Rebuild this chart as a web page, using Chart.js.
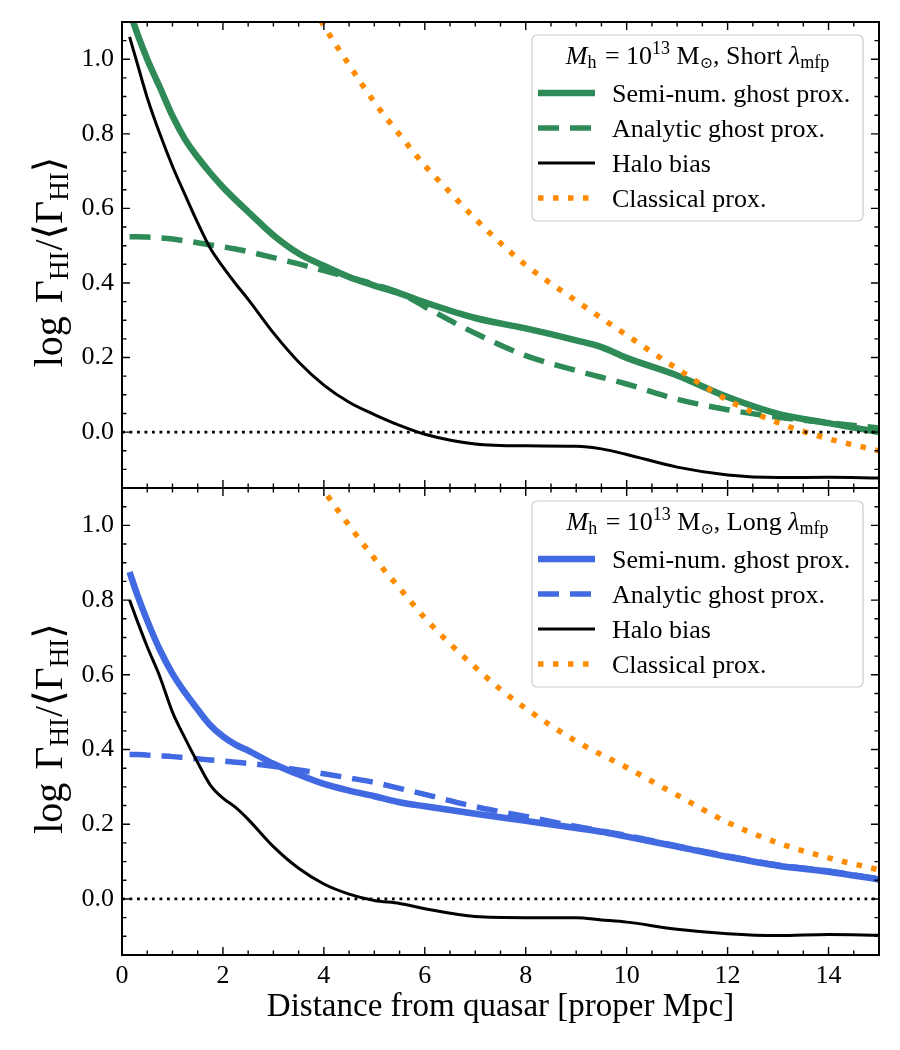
<!DOCTYPE html>
<html>
<head>
<meta charset="utf-8">
<title>Ghost proximity profiles</title>
<script src="https://cdn.jsdelivr.net/npm/chart.js@4.4.1/dist/chart.umd.min.js"></script>
<style>
html,body{margin:0;padding:0;background:#ffffff;}
#wrap{position:relative;width:900px;height:1050px;overflow:hidden;background:#ffffff;}
#wrap canvas{position:absolute;left:0;}
</style>
</head>
<body>
<div id="wrap">
<canvas id="topCanvas" width="900" height="516" style="top:0px;width:900px;height:516px"></canvas>
<canvas id="bottomCanvas" width="900" height="590" style="top:460px;width:900px;height:590px"></canvas>
</div>
<script>
// ---------------- data ----------------
const xGrid = [0.15, 0.3, 0.5, 0.75, 1, 1.25, 1.5, 1.75, 2, 2.25, 2.5, 3, 3.5, 4, 4.5, 5, 5.5, 6, 7, 8, 9, 9.5, 10, 11, 12, 13, 14, 15];

// Top panel: Short mean free path
const shortSemiNum   = [1.13, 1.07, 1.00, 0.925, 0.848, 0.785, 0.737, 0.695, 0.657, 0.623, 0.591, 0.528, 0.479, 0.446, 0.416, 0.393, 0.372, 0.348, 0.306, 0.278, 0.246, 0.228, 0.199, 0.152, 0.094, 0.049, 0.024, 0.0];
const shortAnalytic  = [0.524, 0.524, 0.523, 0.521, 0.518, 0.513, 0.508, 0.502, 0.497, 0.491, 0.484, 0.468, 0.451, 0.433, 0.415, 0.396, 0.374, 0.336, 0.265, 0.205, 0.165, 0.147, 0.129, 0.088, 0.060, 0.040, 0.025, 0.011];
const shortHaloBias  = [1.06, 0.99, 0.897, 0.80, 0.713, 0.636, 0.561, 0.493, 0.443, 0.398, 0.356, 0.266, 0.188, 0.126, 0.08, 0.047, 0.018, -0.006, -0.032, -0.037, -0.038, -0.045, -0.06, -0.094, -0.115, -0.122, -0.121, -0.123];

// Bottom panel: Long mean free path
const longSemiNum    = [0.875, 0.815, 0.745, 0.667, 0.603, 0.552, 0.507, 0.465, 0.435, 0.413, 0.397, 0.362, 0.333, 0.308, 0.29, 0.275, 0.259, 0.248, 0.228, 0.209, 0.19, 0.18, 0.167, 0.14, 0.113, 0.089, 0.073, 0.052];
const longAnalytic   = [0.387, 0.387, 0.385, 0.383, 0.381, 0.378, 0.375, 0.372, 0.369, 0.366, 0.363, 0.355, 0.345, 0.335, 0.324, 0.312, 0.296, 0.28, 0.247, 0.221, 0.194, 0.182, 0.17, 0.142, 0.115, 0.091, 0.075, 0.054];
const longHaloBias   = [0.80, 0.745, 0.675, 0.595, 0.50, 0.43, 0.365, 0.305, 0.27, 0.245, 0.213, 0.14, 0.082, 0.04, 0.013, -0.004, -0.012, -0.026, -0.047, -0.05, -0.05, -0.056, -0.062, -0.081, -0.093, -0.098, -0.095, -0.097];

// Classical proximity zone (both panels)
const classicalX     = [3.5, 4, 4.5, 5, 5.5, 6, 6.5, 7, 7.5, 8, 9, 10, 11, 12, 13, 14, 15];
const shortClassical = [1.21, 1.09, 0.985, 0.885, 0.798, 0.715, 0.643, 0.572, 0.507, 0.448, 0.352, 0.26, 0.17, 0.086, 0.025, -0.018, -0.05];
const longClassical  = [1.22, 1.095, 1.0, 0.912, 0.832, 0.752, 0.683, 0.62, 0.561, 0.51, 0.422, 0.352, 0.278, 0.205, 0.15, 0.11, 0.078];

// Reference line
const zeroX = [0, 15];
const zeroY = [0, 0];

// Labels and ticks
const seriesLabels = ['Semi-num. ghost prox.', 'Analytic ghost prox.', 'Halo bias', 'Classical prox.'];
const panelNames   = ['Short', 'Long'];
const xTickValues  = [0, 2, 4, 6, 8, 10, 12, 14];
const yTickValues  = [0.0, 0.2, 0.4, 0.6, 0.8, 1.0];
const xAxisTitle   = 'Distance from quasar [proper Mpc]';

// ---------------- style ----------------
const SERIF = "'Liberation Serif','Times New Roman','DejaVu Serif',serif";
const GREEN = '#2e8b57', BLUE = '#4169e1', ORANGE = '#ff8c00';
const X_MIN = 0, X_MAX = 15, Y_MIN = -0.15, Y_MAX = 1.1;
const X_MAJOR = 2, X_MINOR = 0.5, Y_MAJOR = 0.2, Y_MINOR = 0.05;
const TICK_MAJOR = 8, TICK_MINOR = 4.5;

function pts(xs, ys) { return xs.map((x, i) => ({x: x, y: ys[i]})); }

function fontStr(s) { return (s.i ? 'italic ' : '') + s.s + 'px ' + SERIF; }
function richWidth(ctx, segs) {
  let w = 0;
  for (const s of segs) { ctx.font = fontStr(s); w += ctx.measureText(s.t).width + (s.dx || 0); }
  return w;
}
function drawRich(ctx, segs, x, y, align) {
  let cx = align === 'center' ? x - richWidth(ctx, segs) / 2 : x;
  for (const s of segs) {
    ctx.font = fontStr(s);
    cx += (s.dx || 0);
    ctx.fillText(s.t, cx, y + (s.dy || 0));
    cx += ctx.measureText(s.t).width;
  }
}
function legendTitle(name) {
  return [
    {t: 'M', s: 26, i: true},
    {t: 'h', s: 18, dy: 4},
    {t: ' = 10', s: 26, dx: 2},
    {t: '13', s: 18, dy: -10},
    {t: ' M', s: 26},
    {t: '\u2299', s: 16, dy: 4},
    {t: ', ' + name + ' ', s: 26},
    {t: '\u03bb', s: 26, i: true},
    {t: 'mfp', s: 18, dy: 4}
  ];
}
const yLabelSegs = [
  {t: 'log', s: 40},
  {t: ' \u0393', s: 40, dx: 3},
  {t: 'HI', s: 27, dy: 6},
  {t: '/', s: 40, dx: 1},
  {t: '\u27e8', s: 40},
  {t: '\u0393', s: 40},
  {t: 'HI', s: 27, dy: 6},
  {t: '\u27e9', s: 40}
];

const panelPlugin = {
  id: 'panelDecor',
  afterDraw(chart, args, o) {
    const ctx = chart.ctx, a = chart.chartArea, xs = chart.scales.x, ys = chart.scales.y;
    ctx.save();
    // inward ticks on all four sides
    ctx.strokeStyle = '#000'; ctx.lineWidth = 1.4; ctx.lineCap = 'butt'; ctx.setLineDash([]);
    ctx.beginPath();
    for (let k = Math.ceil(X_MIN / X_MINOR - 1e-6); k * X_MINOR <= X_MAX + 1e-9; k++) {
      const v = k * X_MINOR, p = xs.getPixelForValue(v);
      const L = Math.abs(v / X_MAJOR - Math.round(v / X_MAJOR)) < 1e-6 ? TICK_MAJOR : TICK_MINOR;
      ctx.moveTo(p, a.bottom); ctx.lineTo(p, a.bottom - L);
      ctx.moveTo(p, a.top); ctx.lineTo(p, a.top + L);
    }
    for (let k = Math.ceil(Y_MIN / Y_MINOR - 1e-6); k * Y_MINOR <= Y_MAX + 1e-9; k++) {
      const v = k * Y_MINOR, p = ys.getPixelForValue(v);
      const L = Math.abs(v / Y_MAJOR - Math.round(v / Y_MAJOR)) < 1e-6 ? TICK_MAJOR : TICK_MINOR;
      ctx.moveTo(a.left, p); ctx.lineTo(a.left + L, p);
      ctx.moveTo(a.right, p); ctx.lineTo(a.right - L, p);
    }
    ctx.stroke();
    ctx.lineWidth = 2;
    ctx.strokeRect(a.left, a.top, a.right - a.left, a.bottom - a.top);

    // legend
    const bw = 331, bh = 186, bx = a.right - 16 - bw, by = a.top + 13;
    ctx.beginPath();
    ctx.roundRect(bx, by, bw, bh, 5);
    ctx.fillStyle = 'rgba(255,255,255,0.8)'; ctx.fill();
    ctx.strokeStyle = '#cccccc'; ctx.lineWidth = 1.2; ctx.stroke();
    ctx.fillStyle = '#000'; ctx.textBaseline = 'alphabetic'; ctx.textAlign = 'left';
    drawRich(ctx, legendTitle(o.name), bx + bw / 2, by + 29, 'center');
    seriesLabels.forEach((lab, i) => {
      const ds = chart.data.datasets.find(d => d.label === lab);
      const yy = by + 58 + i * 35;
      ctx.beginPath();
      ctx.setLineDash(ds.borderDash || []);
      ctx.strokeStyle = ds.borderColor; ctx.lineWidth = ds.borderWidth;
      ctx.moveTo(bx + 6, yy); ctx.lineTo(bx + 63, yy); ctx.stroke();
      ctx.setLineDash([]);
      ctx.fillStyle = '#000';
      ctx.font = '26px ' + SERIF;
      ctx.fillText(lab, bx + 80, yy + 9);
    });

    // y axis label
    ctx.save();
    ctx.translate(62, (a.top + a.bottom) / 2 + 7);
    ctx.rotate(-Math.PI / 2);
    ctx.fillStyle = '#000';
    drawRich(ctx, yLabelSegs, 0, 0, 'center');
    ctx.restore();
    ctx.restore();
  }
};

function makeDatasets(semi, analytic, halo, classical, color) {
  const common = {pointRadius: 0, pointHoverRadius: 0, fill: false, cubicInterpolationMode: 'monotone', borderCapStyle: 'butt', borderJoinStyle: 'round', clip: 0};
  return [
    Object.assign({}, common, {label: 'zero', data: pts(zeroX, zeroY), borderColor: '#000', borderWidth: 2.8, borderDash: [2.8, 4.7], order: 1, cubicInterpolationMode: 'default', tension: 0}),
    Object.assign({}, common, {label: seriesLabels[3], data: pts(classicalX, classical), borderColor: ORANGE, borderWidth: 5.5, borderDash: [5.5, 9.5], order: 2}),
    Object.assign({}, common, {label: seriesLabels[2], data: pts(xGrid, halo), borderColor: '#000', borderWidth: 3, order: 3}),
    Object.assign({}, common, {label: seriesLabels[1], data: pts(xGrid, analytic), borderColor: color, borderWidth: 5.5, borderDash: [21, 11], order: 4}),
    Object.assign({}, common, {label: seriesLabels[0], data: pts(xGrid, semi), borderColor: color, borderWidth: 6.5, order: 5})
  ];
}

function makeChart(canvasId, datasets, name, isBottom) {
  return new Chart(document.getElementById(canvasId), {
    type: 'line',
    data: {datasets: datasets},
    options: {
      responsive: false, animation: false, devicePixelRatio: 1,
      layout: {padding: {left: 0, right: 21, top: isBottom ? 28 : 22, bottom: 0}},
      plugins: {legend: {display: false}, tooltip: {enabled: false}, panelDecor: {name: name}},
      scales: {
        x: {
          type: 'linear', min: X_MIN, max: X_MAX,
          grid: {display: false, drawTicks: false}, border: {display: false},
          afterBuildTicks: s => { s.ticks = xTickValues.map(v => ({value: v})); },
          afterFit: s => { s.height = isBottom ? 95 : 28; },
          ticks: {display: isBottom, color: '#000', font: {family: SERIF, size: 26}, padding: 6, maxRotation: 0, autoSkip: false, callback: v => String(v)},
          title: {display: isBottom, text: xAxisTitle, color: '#000', font: {family: SERIF, size: 33}, padding: {top: 0, bottom: 23}}
        },
        y: {
          type: 'linear', min: Y_MIN, max: Y_MAX,
          grid: {display: false, drawTicks: false}, border: {display: false},
          afterBuildTicks: s => { s.ticks = yTickValues.map(v => ({value: v})); },
          afterFit: s => { s.width = 122; },
          ticks: {color: '#000', font: {family: SERIF, size: 26, lineHeight: 1.0}, padding: 8, autoSkip: false, callback: v => Number(v).toFixed(1)}
        }
      }
    },
    plugins: [panelPlugin]
  });
}

makeChart('topCanvas', makeDatasets(shortSemiNum, shortAnalytic, shortHaloBias, shortClassical, GREEN), panelNames[0], false);
makeChart('bottomCanvas', makeDatasets(longSemiNum, longAnalytic, longHaloBias, longClassical, BLUE), panelNames[1], true);
</script>
</body>
</html>
